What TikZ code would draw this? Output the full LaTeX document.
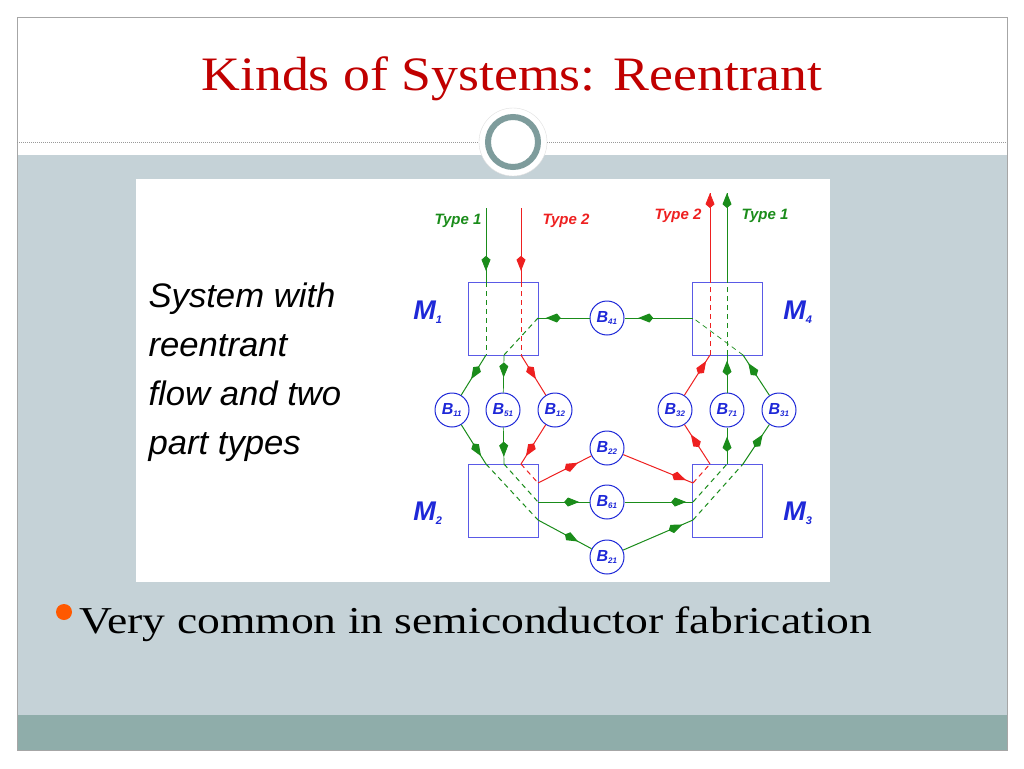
\documentclass[tikz,border=0pt]{standalone}
\usepackage{fontspec}
\setmainfont{Liberation Serif}
\setsansfont{Liberation Sans}
\usetikzlibrary{arrows.meta,decorations.markings}
\definecolor{gfr}{HTML}{1A8C1A}
\definecolor{rfr}{HTML}{EE2020}
\definecolor{bfr}{HTML}{1E28D8}
\definecolor{bx}{HTML}{5A5AE6}
\definecolor{slidebg}{HTML}{C5D2D7}
\definecolor{band}{HTML}{8FADAA}
\definecolor{ring}{HTML}{7E9C9C}
\definecolor{ttl}{HTML}{C00000}
\begin{document}
\begin{tikzpicture}[x=1pt,y=-1pt,
  box/.style={draw=bx,line width=0.8pt,minimum width=70pt,minimum height=73pt,inner sep=0pt},
  buf/.style={circle,draw=bfr,line width=1pt,minimum size=34pt,inner sep=0pt,font=\sffamily\bfseries\itshape\fontsize{16}{16}\selectfont,text=bfr},
  arr/.style={postaction=decorate,decoration={markings,mark=at position #1 with {\arrow{Kite[length=15pt,width=9pt]}}}},
  arr/.default=0.8,
  g/.style={draw=gfr,line width=1pt},
  r/.style={draw=rfr,line width=1pt},
  gd/.style={draw=gfr,line width=1pt,dash pattern=on 5pt off 4pt},
  rd/.style={draw=rfr,line width=1pt,dash pattern=on 5pt off 4pt},
  lab/.style={font=\sffamily\bfseries\itshape\fontsize{15}{15}\selectfont},
  mlab/.style={font=\sffamily\bfseries\itshape\fontsize{27}{27}\selectfont,text=bfr},
  side/.style={anchor=base west,font=\sffamily\itshape\fontsize{34}{34}\selectfont}]
\useasboundingbox (0,0) rectangle (1024,768);
\fill[white] (0,0) rectangle (1024,768);
% slide
\fill[slidebg] (17,155) rectangle (1007,715);
\fill[band] (17,715) rectangle (1007,750);
\draw[gray!70,line width=0.8pt] (17,17) rectangle (1007,750);
\draw[gray!80,line width=0.8pt,dash pattern=on 1pt off 1pt] (17,142) -- (1007,142);
\node[circle,fill=white,draw=gray!25,minimum size=68pt,inner sep=0pt] (oc) at (513,142) {};
\node[circle,draw=ring,line width=6pt,fill=white,minimum size=50pt,inner sep=0pt] (rc) at (513,142) {};
\node[text=ttl,font=\fontsize{48}{48}\selectfont] (title) at (512,79) {\scalebox{1.12}[1]{Kinds of Systems: Reentrant}};
% picture
\fill[white] (136,179) rectangle (830,582);
\node[side] (txt) at (145,307) {\scalebox{1.02}[1]{System with}};
\node[side] (txt2) at (145,356) {\scalebox{1.02}[1]{reentrant}};
\node[side] (txt3) at (145,405) {\scalebox{1.02}[1]{flow and two}};
\node[side] (txt4) at (145,454) {\scalebox{1.02}[1]{part types}};
% machines
\node[box] (M1) at (503,318.5) {};
\node[box] (M4) at (727.5,318.5) {};
\node[box] (M2) at (503,500.5) {};
\node[box] (M3) at (727.5,500.5) {};
\node[mlab] (l1) at (428,312) {M\textsubscript{\fontsize{11}{11}\selectfont 1}};
\node[mlab] (l4) at (798,312) {M\textsubscript{\fontsize{11}{11}\selectfont 4}};
\node[mlab] (l2) at (428,513) {M\textsubscript{\fontsize{11}{11}\selectfont 2}};
\node[mlab] (l3) at (798,513) {M\textsubscript{\fontsize{11}{11}\selectfont 3}};
% buffers
\newcommand{\bb}[1]{B\textsubscript{\fontsize{8}{8}\selectfont #1}}
\node[buf] (B41) at (607,318) {\bb{41}};
\node[buf] (B11) at (452,410) {\bb{11}};
\node[buf] (B51) at (503,410) {\bb{51}};
\node[buf] (B12) at (555,410) {\bb{12}};
\node[buf] (B22) at (607,448) {\bb{22}};
\node[buf] (B61) at (607,502) {\bb{61}};
\node[buf] (B21) at (607,557) {\bb{21}};
\node[buf] (B32) at (675,410) {\bb{32}};
\node[buf] (B71) at (727,410) {\bb{71}};
\node[buf] (B31) at (779,410) {\bb{31}};
% ports
\coordinate (g1in) at (486,208); \coordinate (r1in) at (521,208);
\coordinate (g1t) at (486,282); \coordinate (r1t) at (521,282);
\coordinate (g1b) at (486,355); \coordinate (r1b) at (521,355);
\coordinate (g1r) at (538,318); \coordinate (g1m) at (504,355);
\coordinate (g4l) at (693,318); \coordinate (g4a) at (743,355);
\coordinate (r4b) at (710,355); \coordinate (g4b) at (727,355);
\coordinate (r4t) at (710,282); \coordinate (g4t) at (727,282);
\coordinate (r4o) at (710,193); \coordinate (g4o) at (727,193);
\coordinate (g2a) at (486,464); \coordinate (g2b) at (504,464); \coordinate (r2a) at (521,464);
\coordinate (r2o) at (538,483); \coordinate (g2o1) at (538,502); \coordinate (g2o2) at (538,520);
\coordinate (r3i) at (693,483); \coordinate (g3i1) at (693,502); \coordinate (g3i2) at (693,520);
\coordinate (r3t) at (710,464); \coordinate (g3t1) at (727,464); \coordinate (g3t2) at (743,464);
% inputs
\draw[g,line width=0.7pt,arr=0.85] (g1in) -- (g1t);
\draw[r,arr=0.85] (r1in) -- (r1t);
\node[lab,text=gfr] (t1) at (458,221) {Type 1};
\node[lab,text=rfr] (t2) at (566,221) {Type 2};
\node[lab,text=rfr] (t3) at (678,216) {Type 2};
\node[lab,text=gfr] (t4) at (765,216) {Type 1};
% M1 internal
\draw[gd,line width=0.7pt] (g1t) -- (g1b);
\draw[rd] (r1t) -- (r1b);
\draw[gd] (g1r) -- (g1m);
\draw[g,arr=0.6] (g1b) -- (B11);
\draw[g,line width=0.7pt,arr=0.6] (g1m) -- (B51);
\draw[r,arr=0.6] (r1b) -- (B12);
\draw[g,arr=0.85] (B41) -- (g1r);
\draw[g,arr=0.8] (g4l) -- (B41);
% to M2
\draw[g,arr=0.8] (B11) -- (g2a);
\draw[g,line width=0.7pt,arr=0.8] (B51) -- (g2b);
\draw[r,arr=0.8] (B12) -- (r2a);
\draw[gd] (g2a) -- (g2o2);
\draw[gd] (g2b) -- (g2o1);
\draw[rd] (r2a) -- (r2o);
\draw[r,arr=0.75] (r2o) -- (B22);
\draw[g,line width=0.7pt,arr=0.8] (g2o1) -- (B61);
\draw[g,arr=0.75] (g2o2) -- (B21);
\draw[r,arr=0.9] (B22) -- (r3i);
\draw[g,line width=0.7pt,arr=0.9] (B61) -- (g3i1);
\draw[g,arr=0.85] (B21) -- (g3i2);
% M3 internal
\draw[rd] (r3i) -- (r3t);
\draw[gd] (g3i1) -- (g3t1);
\draw[gd] (g3i2) -- (g3t2);
\draw[r,arr=0.75] (r3t) -- (B32);
\draw[g,arr=0.75] (g3t1) -- (B71);
\draw[g,arr=0.75] (g3t2) -- (B31);
% to M4
\draw[r,arr=0.85] (B32) -- (r4b);
\draw[g,arr=0.85] (B71) -- (g4b);
\draw[g,arr=0.8] (B31) -- (g4a);
\draw[gd,line width=0.7pt] (g4a) -- (g4l);
\draw[rd,line width=0.7pt] (r4b) -- (r4t);
\draw[gd] (g4b) -- (g4t);
\draw[r,line width=0.7pt,arr=1] (r4t) -- (r4o);
\draw[g,arr=1] (g4t) -- (g4o);
% bullet
\fill[orange!70!red] (64,612) circle (8pt);
\node[anchor=base west,font=\fontsize{38}{38}\selectfont] (bt) at (76,633) {\scalebox{1.2}[1]{Very common in semiconductor fabrication}};
\end{tikzpicture}
\end{document}
